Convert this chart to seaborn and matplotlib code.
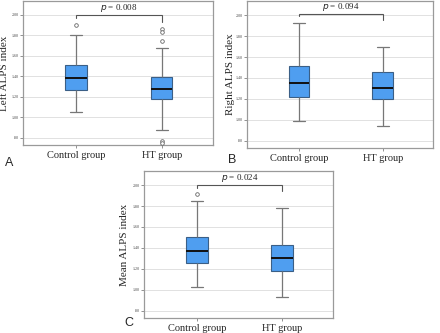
import matplotlib
matplotlib.use("Agg")
import matplotlib.pyplot as plt
import seaborn as sns
import pandas as pd

# Group labels
groups = ["Control group", "HT group"]

# Five-number summaries (lower whisker, Q1, median, Q3, upper whisker)
left_control = [1.05, 1.27, 1.38, 1.51, 1.80]
left_ht = [0.88, 1.18, 1.28, 1.39, 1.68]
right_control = [0.985, 1.215, 1.355, 1.51, 1.927]
right_ht = [0.94, 1.20, 1.305, 1.46, 1.70]
mean_control = [1.023, 1.255, 1.373, 1.503, 1.85]
mean_ht = [0.934, 1.179, 1.30, 1.427, 1.78]

# Outlying observations
left_out_control = [1.90]
left_out_ht = [1.86, 1.83, 1.75, 0.77, 0.75]
right_out_control = []
right_out_ht = []
mean_out_control = [1.917]
mean_out_ht = []

# Y-axis tick values and labels
yticks = [0.80, 1.00, 1.20, 1.40, 1.60, 1.80, 2.00]
yticklabels = [".80", "1.00", "1.20", "1.40", "1.60", "1.80", "2.00"]

# Significance annotations
p_texts = ["0.008", "0.094", "0.024"]
ylabels = ["Left ALPS index", "Right ALPS index", "Mean ALPS index"]
panel_letters = ["A", "B", "C"]

sns.set_style("white")
plt.rcParams["font.family"] = ["Liberation Serif", "DejaVu Serif"]

BOX_FILL = "#4f9ef0"
BOX_EDGE = "#3b5f86"
WHISK = "#777777"
SPINE = "#9a9a9a"
GRID = "#dcdcdc"

fig = plt.figure(figsize=(4.40, 3.33), dpi=100)

axes_rects = [
    [0.0523, 0.5646, 0.432, 0.432],
    [0.5614, 0.5556, 0.423, 0.441],
    [0.3273, 0.0450, 0.430, 0.4415],
]

panels = [
    (left_control, left_ht, left_out_control, left_out_ht, 2.00, 0.03, 0.07),
    (right_control, right_ht, right_out_control, right_out_ht, 2.016, 0.026, 0.066),
    (mean_control, mean_ht, mean_out_control, mean_out_ht, 2.00, 0.03, 0.06),
]

ylabel_x = [-0.072, -0.062, -0.079]
letter_pos = [(0.011, 0.51), (0.518, 0.52), (0.282, 0.03)]

for i, (rect, (ctrl, ht, oc, oh, by, d1, d2)) in enumerate(zip(axes_rects, panels)):
    ax = fig.add_axes(rect)
    df = pd.DataFrame({
        "group": [groups[0]] * len(ctrl) + [groups[1]] * len(ht),
        "value": ctrl + ht,
    })
    for y in yticks:
        ax.axhline(y, color=GRID, lw=0.6, zorder=0)
    sns.boxplot(
        data=df, x="group", y="value", order=groups, ax=ax,
        whis=(0, 100), width=0.25, color=BOX_FILL, saturation=1,
        linewidth=0.8, showfliers=False,
        boxprops=dict(facecolor=BOX_FILL, edgecolor=BOX_EDGE, linewidth=0.8),
        whiskerprops=dict(color=WHISK, linewidth=0.9),
        capprops=dict(color=WHISK, linewidth=0.9),
        medianprops=dict(color="#111111", linewidth=1.4),
        capwidths=0.14,
    )
    odf = pd.DataFrame({
        "group": [groups[0]] * len(oc) + [groups[1]] * len(oh),
        "value": oc + oh,
    })
    if len(odf):
        sns.stripplot(
            data=odf, x="group", y="value", order=groups, ax=ax,
            jitter=False, marker="o", size=2.6, color="white",
            edgecolor="#666666", linewidth=0.6, zorder=5,
        )

    ax.set_xlim(-0.62, 1.6)
    ax.set_ylim(0.73, 2.135)
    ax.set_yticks(yticks)
    ax.set_yticklabels(yticklabels, fontsize=3, color="#444444")
    ax.set_xticks([0, 1])
    ax.set_xticklabels(groups, fontsize=7.5)
    ax.set_xlabel("")
    ax.set_ylabel(ylabels[i], fontsize=8)
    ax.yaxis.set_label_coords(ylabel_x[i], 0.5)
    ax.tick_params(axis="y", length=2, width=0.5, color="#666666", pad=1, left=True)
    ax.tick_params(axis="x", length=2, width=0.5, color="#666666", pad=2, bottom=True)
    for s in ax.spines.values():
        s.set_color(SPINE)
        s.set_linewidth(0.9)

    # significance bracket between the two groups
    ax.plot([0, 0, 1, 1], [by - d1, by, by, by - d2], color="#555555", lw=0.8,
            solid_joinstyle="miter")
    ax.text(0.5, by + 0.008, r"$\it{p}$" + " = " + p_texts[i], ha="center",
            va="bottom", fontsize=6.5)

    fig.text(letter_pos[i][0], letter_pos[i][1], panel_letters[i],
             fontsize=9, family="Liberation Sans", ha="left", va="center")

fig.savefig("out.png", dpi=100, facecolor="white")
